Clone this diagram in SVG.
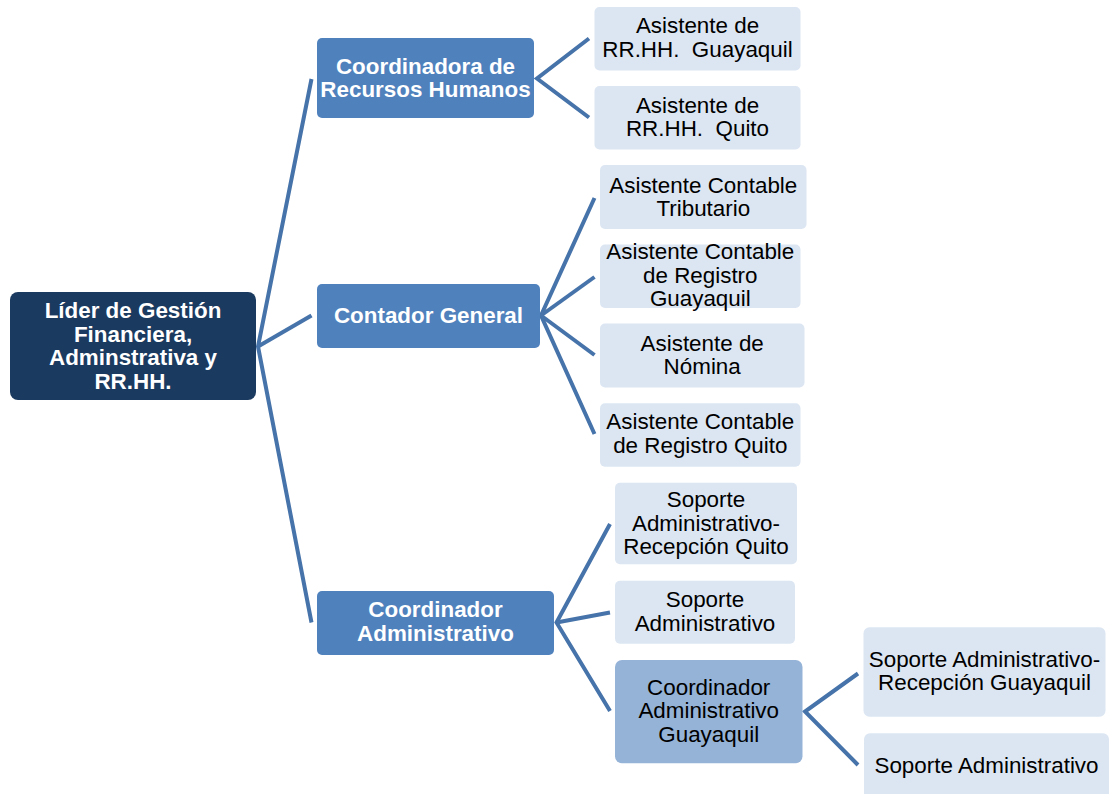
<svg xmlns="http://www.w3.org/2000/svg" width="1110" height="794" viewBox="0 0 1110 794">
<style>
.root{fill:#1b3a5f}
.l1{fill:#4f81bd}
.l2{fill:#dce6f2}
.l2d{fill:#95b3d7}
.tb{font-family:"Liberation Sans",Arial,sans-serif;font-size:22.4px;font-weight:bold;fill:#ffffff;text-anchor:middle}
.tr{font-family:"Liberation Sans",Arial,sans-serif;font-size:22.4px;fill:#000000;text-anchor:middle}
.c{stroke:#4673a9;stroke-width:4;fill:none;stroke-linejoin:miter}
</style>
<rect width="1110" height="794" fill="#ffffff"/>
<g id="connectors">
<polyline class="c" points="311.5,79 258,346.5 311.5,622.5"/>
<line class="c" x1="258" y1="346.5" x2="311.5" y2="315.5"/>
<polyline class="c" points="589,38.5 537,78.5 589,117.5"/>
<polyline class="c" points="594.5,198 541,315.5 594.5,434"/>
<line class="c" x1="541" y1="315.5" x2="594.5" y2="277"/>
<line class="c" x1="541" y1="315.5" x2="594.5" y2="355"/>
<polyline class="c" points="610,524 556.5,622.5 610,711"/>
<line class="c" x1="556.5" y1="622.5" x2="610" y2="612.5"/>
<polyline class="c" points="858,673.5 805,711.5 858,765"/>
</g>
<g id="n-root">
<rect class="root" x="10" y="292" width="246" height="108" rx="8"/>
<text class="tb" x="133" y="318">Líder de Gestión</text>
<text class="tb" x="133" y="341.5">Financiera,</text>
<text class="tb" x="133" y="365">Adminstrativa y</text>
<text class="tb" x="133" y="388.5">RR.HH.</text>
</g>
<g id="n-rrhh">
<rect class="l1" x="317" y="38" width="217" height="80" rx="5"/>
<text class="tb" x="425.5" y="73.5">Coordinadora de</text>
<text class="tb" x="425.5" y="97">Recursos Humanos</text>
</g>
<g id="n-contador">
<rect class="l1" x="317" y="284" width="223" height="64" rx="5"/>
<text class="tb" x="428.5" y="323">Contador General</text>
</g>
<g id="n-coordadmin">
<rect class="l1" x="317" y="591" width="237" height="64" rx="5"/>
<text class="tb" x="435.5" y="617">Coordinador</text>
<text class="tb" x="435.5" y="640.5">Administrativo</text>
</g>
<g id="n-asis-rrhh-gye">
<rect class="l2" x="594.5" y="7" width="206" height="63.5" rx="5"/>
<text class="tr" x="697.5" y="33.3">Asistente de</text>
<text class="tr" x="697.5" y="56.7" xml:space="preserve">RR.HH.  Guayaquil</text>
</g>
<g id="n-asis-rrhh-uio">
<rect class="l2" x="594.5" y="86" width="206" height="63.5" rx="5"/>
<text class="tr" x="697.5" y="112.7">Asistente de</text>
<text class="tr" x="697.5" y="136" xml:space="preserve">RR.HH.  Quito</text>
</g>
<g id="n-trib">
<rect class="l2" x="600" y="165" width="206.5" height="64" rx="5"/>
<text class="tr" x="703.3" y="192.7">Asistente Contable</text>
<text class="tr" x="703.3" y="216">Tributario</text>
</g>
<g id="n-reg-gye">
<rect class="l2" x="600" y="244.5" width="200.5" height="63.5" rx="5"/>
<text class="tr" x="700.3" y="259.3">Asistente Contable</text>
<text class="tr" x="700.3" y="282.7">de Registro</text>
<text class="tr" x="700.3" y="306">Guayaquil</text>
</g>
<g id="n-nomina">
<rect class="l2" x="600" y="323.5" width="204.5" height="64" rx="5"/>
<text class="tr" x="702.2" y="350.7">Asistente de</text>
<text class="tr" x="702.2" y="374">Nómina</text>
</g>
<g id="n-reg-uio">
<rect class="l2" x="600" y="403.3" width="200.5" height="63.5" rx="5"/>
<text class="tr" x="700.3" y="429.3">Asistente Contable</text>
<text class="tr" x="700.3" y="453">de Registro Quito</text>
</g>
<g id="n-sop-rec-uio">
<rect class="l2" x="615" y="482.7" width="182" height="81.5" rx="5"/>
<text class="tr" x="706" y="507.3">Soporte</text>
<text class="tr" x="706" y="530.5">Administrativo-</text>
<text class="tr" x="706" y="554">Recepción Quito</text>
</g>
<g id="n-sop-admin">
<rect class="l2" x="615" y="580.7" width="180" height="63" rx="5"/>
<text class="tr" x="705" y="607.3">Soporte</text>
<text class="tr" x="705" y="630.7">Administrativo</text>
</g>
<g id="n-coord-gye">
<rect class="l2d" x="615" y="660" width="187.5" height="103.3" rx="7"/>
<text class="tr" x="708.7" y="695">Coordinador</text>
<text class="tr" x="708.7" y="718.3">Administrativo</text>
<text class="tr" x="708.7" y="741.7">Guayaquil</text>
</g>
<g id="n-sop-rec-gye">
<rect class="l2" x="863.5" y="627.3" width="242" height="89.4" rx="6"/>
<text class="tr" x="984.5" y="666.7">Soporte Administrativo-</text>
<text class="tr" x="984.5" y="690">Recepción Guayaquil</text>
</g>
<g id="n-sop-admin-gye">
<rect class="l2" x="864" y="733.3" width="245" height="75" rx="6"/>
<text class="tr" x="986.5" y="773">Soporte Administrativo</text>
</g>
</svg>
